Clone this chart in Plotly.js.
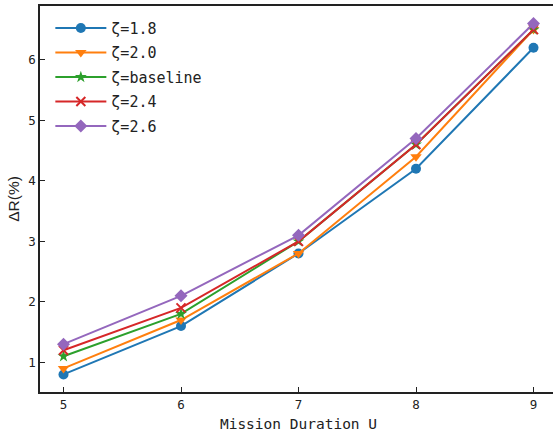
<!DOCTYPE html>
<html>
<head>
<meta charset="utf-8">
<script src="https://cdn.plot.ly/plotly-3.0.1.min.js"></script>
<style>
html, body { margin: 0; padding: 0; overflow: hidden; background: #fff; }
#chart { width: 560px; height: 435px; }
</style>
</head>
<body>
<div id="chart"></div>
<script>
const durations = [5, 6, 7, 8, 9];
const seriesNames = ['ζ=1.8', 'ζ=2.0', 'ζ=baseline', 'ζ=2.4', 'ζ=2.6'];
const zeta18 = [0.8, 1.6, 2.8, 4.2, 6.2];
const zeta20 = [0.9, 1.7, 2.8, 4.4, 6.5];
const zetaBase = [1.1, 1.8, 3.0, 4.6, 6.5];
const zeta24 = [1.2, 1.9, 3.0, 4.6, 6.5];
const zeta26 = [1.3, 2.1, 3.1, 4.7, 6.6];
const xTicks = [5, 6, 7, 8, 9];
const yTicks = [1, 2, 3, 4, 5, 6];

const seriesValues = [zeta18, zeta20, zetaBase, zeta24, zeta26];
const colors = ['#1f77b4', '#ff7f0e', '#2ca02c', '#d62728', '#9467bd'];
const markers = [
  {symbol: 'circle', size: 10},
  {symbol: 'triangle-down', size: 10},
  {symbol: 'star', size: 9},
  {symbol: 'x-thin', size: 9},
  {symbol: 'diamond', size: 10}
];

const traces = seriesValues.map((vals, i) => ({
  x: durations,
  y: vals,
  name: seriesNames[i],
  legendgroup: 'g' + i,
  type: 'scatter',
  mode: 'lines+markers',
  line: {color: colors[i], width: 2},
  marker: {
    symbol: markers[i].symbol,
    size: markers[i].size,
    color: colors[i],
    line: markers[i].symbol === 'x-thin' ? {color: colors[i], width: 2} : {width: 0}
  }
}));

const tickFont = {family: 'DejaVu Sans Mono', size: 12.5, color: '#222'};

const layout = {
  width: 560,
  height: 435,
  margin: {l: 40, r: 3, t: 6, b: 43},
  paper_bgcolor: '#fff',
  plot_bgcolor: '#fff',
  showlegend: true,
  legend: {
    x: 0.02, xanchor: 'left',
    y: 0.985, yanchor: 'top',
    bgcolor: 'rgba(0,0,0,0)',
    borderwidth: 0,
    font: {family: 'DejaVu Sans Mono', size: 15, color: '#222'},
    itemwidth: 51,
    tracegroupgap: 2,
    traceorder: 'grouped'
  },
  xaxis: {
    range: [4.8, 9.2],
    tickvals: xTicks,
    ticks: 'inside',
    ticklen: 5,
    tickwidth: 1,
    tickcolor: '#222',
    showline: true,
    linecolor: '#222',
    linewidth: 1.5,
    mirror: true,
    showgrid: false,
    zeroline: false,
    tickfont: tickFont,
    title: {text: 'Mission Duration U', font: {family: 'DejaVu Sans Mono', size: 14.5, color: '#222'}, standoff: 8}
  },
  yaxis: {
    range: [0.51, 6.89],
    tickvals: yTicks,
    ticks: 'inside',
    ticklen: 5,
    tickwidth: 1,
    tickcolor: '#222',
    showline: true,
    linecolor: '#222',
    linewidth: 1.5,
    mirror: true,
    showgrid: false,
    zeroline: false,
    tickfont: tickFont,
    title: {text: 'ΔR(%)', font: {family: 'Liberation Sans', size: 15.5, color: '#222'}, standoff: 5}
  },
  xaxis2: {
    overlaying: 'x', anchor: 'y', side: 'bottom',
    range: [4.8, 9.2], tickvals: xTicks,
    ticks: 'outside', ticklen: 3, tickwidth: 1, tickcolor: '#222',
    showticklabels: false, showline: false, showgrid: false, zeroline: false
  },
  yaxis2: {
    overlaying: 'y', anchor: 'x', side: 'left',
    range: [0.51, 6.89], tickvals: yTicks,
    ticks: 'outside', ticklen: 2, tickwidth: 1, tickcolor: '#222',
    showticklabels: false, showline: false, showgrid: false, zeroline: false
  }
};

Plotly.newPlot('chart', traces, layout, {displayModeBar: false, responsive: false});
</script>
</body>
</html>
